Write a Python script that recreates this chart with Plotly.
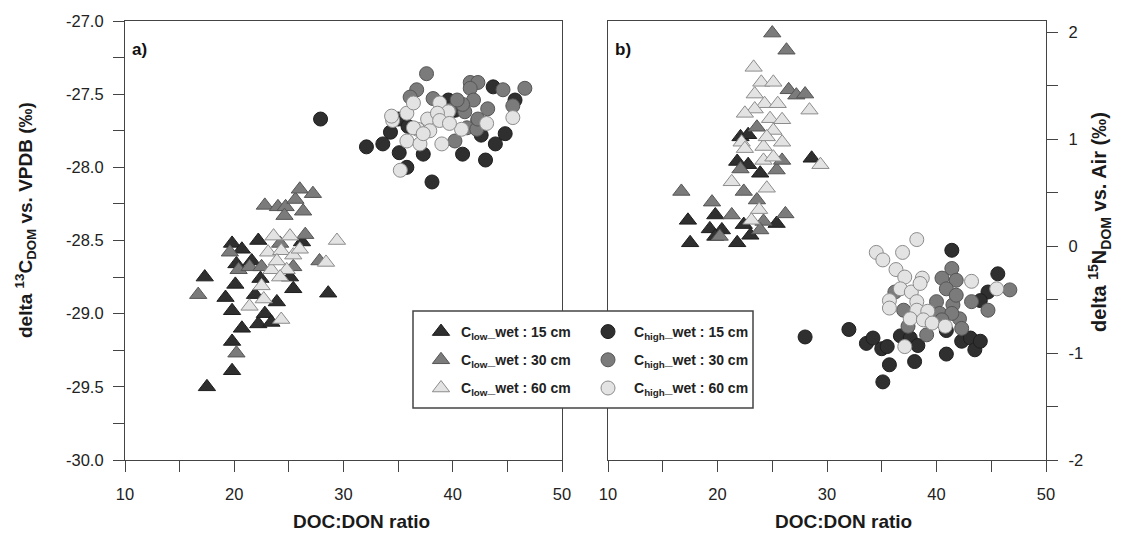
import plotly.graph_objects as go

# ---------------- data ----------------
# Panel a) DOC:DON ratio vs delta13C
a_low15_x = [17.5, 19.8, 19.8, 20.7, 19.8, 19.2, 17.3, 20.1, 22.2, 22.8, 23.4, 23.9, 21.9, 25.4, 28.6, 19.8, 20.7, 22.2, 26.2, 20.2, 22.4, 25.1, 21.6]
a_low15_y = [-29.50, -29.39, -29.19, -29.10, -28.98, -28.89, -28.75, -28.80, -29.07, -29.00, -29.06, -28.92, -28.87, -28.83, -28.86, -28.52, -28.56, -28.50, -28.51, -28.66, -28.76, -28.75, -28.64]
a_low30_x = [22.8, 24.0, 24.7, 25.6, 26.0, 27.2, 26.3, 24.6, 16.7, 20.2, 19.6, 26.5, 27.8, 20.4, 21.4, 22.5, 24.2, 25.4]
a_low30_y = [-28.26, -28.27, -28.27, -28.22, -28.15, -28.18, -28.30, -28.33, -28.87, -29.27, -28.58, -28.46, -28.64, -28.70, -28.68, -28.68, -28.52, -28.68]
a_low60_x = [29.4, 28.4, 23.6, 25.1, 23.1, 24.3, 25.4, 26.0, 23.4, 24.8, 22.5, 21.4, 22.7, 24.3, 24.2, 23.9]
a_low60_y = [-28.50, -28.65, -28.47, -28.47, -28.58, -28.57, -28.60, -28.56, -28.70, -28.70, -28.81, -28.95, -28.90, -29.04, -28.75, -28.64]
a_high15_x = [27.9, 32.1, 33.6, 34.3, 35.1, 35.8, 37.3, 38.1, 40.9, 43.0, 43.9, 44.8, 45.7, 43.7, 42.6, 35.0, 35.9, 40.2, 39.6, 42.3]
a_high15_y = [-27.67, -27.86, -27.84, -27.76, -27.90, -28.00, -27.91, -28.10, -27.91, -27.95, -27.84, -27.77, -27.54, -27.45, -27.78, -27.67, -27.72, -27.61, -27.54, -27.68]
a_high30_x = [37.6, 41.6, 42.3, 46.6, 44.6, 41.6, 41.9, 43.2, 45.5, 36.7, 36.1, 38.2, 41.1, 41.3, 42.2, 40.2, 42.3, 40.9, 39.7, 40.4]
a_high30_y = [-27.36, -27.42, -27.42, -27.46, -27.47, -27.46, -27.54, -27.60, -27.58, -27.47, -27.52, -27.53, -27.62, -27.73, -27.74, -27.82, -27.67, -27.57, -27.61, -27.54]
a_high60_x = [34.5, 34.4, 35.8, 36.4, 38.8, 37.7, 36.8, 37.9, 35.8, 37.0, 39.0, 39.6, 40.8, 43.1, 45.5, 35.2, 38.6, 36.4, 37.3, 38.8, 39.7]
a_high60_y = [-27.68, -27.65, -27.63, -27.56, -27.56, -27.67, -27.74, -27.75, -27.82, -27.84, -27.84, -27.62, -27.74, -27.70, -27.66, -28.02, -27.63, -27.73, -27.77, -27.68, -27.70]

# Panel b) DOC:DON ratio vs delta15N
b_low15_x = [17.5, 17.3, 21.8, 28.6, 23.9, 21.8, 22.8, 22.1, 22.8, 19.3, 19.8, 20.4, 22.4, 23.0, 25.4, 19.8]
b_low15_y = [0.03, 0.24, 0.03, 0.82, 0.68, 0.79, 0.76, 1.02, 1.04, 0.16, 0.29, 0.15, 0.20, 0.10, 0.21, 0.09]
b_low30_x = [25.0, 26.3, 26.5, 27.2, 28.0, 16.7, 19.5, 22.4, 25.4, 22.1, 26.2, 23.6, 24.2, 21.3, 20.2, 23.9, 23.6, 25.9]
b_low30_y = [1.99, 1.83, 1.46, 1.41, 1.42, 0.51, 0.41, 0.51, 0.71, 0.72, 0.30, 0.43, 0.23, 0.29, 0.09, 0.15, 1.11, 0.80]
b_low60_x = [23.3, 24.0, 25.1, 23.4, 28.4, 29.4, 24.3, 25.5, 23.4, 22.5, 24.8, 25.9, 25.1, 22.2, 24.2, 25.9, 22.5, 24.2, 25.1, 21.3, 24.5, 23.8, 23.1, 24.5]
b_low60_y = [1.67, 1.53, 1.53, 1.42, 1.27, 0.76, 1.33, 1.33, 1.28, 1.24, 1.19, 1.18, 1.08, 0.97, 0.93, 0.97, 0.91, 0.80, 0.83, 0.60, 0.54, 0.34, 0.24, 1.02]
b_high15_x = [28.0, 32.0, 33.6, 34.2, 35.0, 35.5, 35.7, 35.1, 36.7, 38.0, 37.6, 38.3, 41.4, 40.9, 42.3, 43.1, 43.5, 44.0, 45.6, 44.7, 44.0, 40.9]
b_high15_y = [-0.85, -0.78, -0.91, -0.86, -0.96, -0.94, -1.11, -1.27, -0.84, -1.08, -0.86, -0.93, -0.04, -1.01, -0.89, -0.86, -0.97, -0.89, -0.26, -0.43, -0.51, -0.79]
b_high30_x = [41.4, 40.5, 41.8, 40.9, 46.7, 44.7, 43.2, 41.5, 40.0, 40.3, 42.1, 42.3, 39.1, 37.4, 37.0, 41.8, 41.4, 36.2, 40.5]
b_high30_y = [-0.21, -0.30, -0.32, -0.40, -0.41, -0.60, -0.52, -0.55, -0.52, -0.63, -0.68, -0.77, -0.83, -0.75, -0.60, -0.46, -0.63, -0.43, -0.69]
b_high60_x = [38.2, 34.5, 35.1, 36.9, 36.3, 37.1, 38.7, 36.7, 35.7, 35.7, 37.7, 38.2, 38.2, 39.2, 37.6, 38.8, 39.6, 40.8, 43.2, 45.5, 37.1, 38.5]
b_high60_y = [0.06, -0.06, -0.13, -0.06, -0.22, -0.29, -0.30, -0.40, -0.51, -0.58, -0.43, -0.52, -0.60, -0.61, -0.68, -0.69, -0.72, -0.75, -0.33, -0.40, -0.94, -0.35]

series_names = [
    "C<sub>low</sub>_wet : 15 cm", "C<sub>low</sub>_wet : 30 cm", "C<sub>low</sub>_wet : 60 cm",
    "C<sub>high</sub>_wet : 15 cm", "C<sub>high</sub>_wet : 30 cm", "C<sub>high</sub>_wet : 60 cm",
]
x_ticks = [10, 20, 30, 40, 50]
y13_ticks = [-30.0, -29.5, -29.0, -28.5, -28.0, -27.5, -27.0]
y13_labels = ["-30.0", "-29.5", "-29.0", "-28.5", "-28.0", "-27.5", "-27.0"]
y15_ticks = [-2, -1, 0, 1, 2]
y15_labels = ["-2", "-1", "0", "1", "2"]
x_title = "DOC:DON ratio"
y13_title = "delta <sup>13</sup>C<sub>DOM</sub> vs. VPDB (‰)"
y15_title = "delta <sup>15</sup>N<sub>DOM</sub> vs. Air (‰)"

# ---------------- styling ----------------
FONT = "Arial, 'Liberation Sans', sans-serif"
fills = ["#2f2f2f", "#7b7b7b", "#e3e3e3"]
edges = ["#1e1e1e", "#555555", "#8c8c8c"]

fig = go.Figure()

panel_a = [(a_low15_x, a_low15_y), (a_low30_x, a_low30_y), (a_low60_x, a_low60_y),
           (a_high15_x, a_high15_y), (a_high30_x, a_high30_y), (a_high60_x, a_high60_y)]
panel_b = [(b_low15_x, b_low15_y), (b_low30_x, b_low30_y), (b_low60_x, b_low60_y),
           (b_high15_x, b_high15_y), (b_high30_x, b_high30_y), (b_high60_x, b_high60_y)]

for i, (xs, ys) in enumerate(panel_a):
    tri = i < 3
    fig.add_trace(go.Scatter(
        x=xs, y=ys, mode="markers", name=series_names[i],
        xaxis="x", yaxis="y",
        legend="legend" if tri else "legend2",
        legendgroup=f"g{i}",
        marker=dict(symbol="triangle-up" if tri else "circle", size=15 if tri else 14,
                    color=fills[i % 3], line=dict(color=edges[i % 3], width=1)),
    ))
for i, (xs, ys) in enumerate(panel_b):
    tri = i < 3
    fig.add_trace(go.Scatter(
        x=xs, y=ys, mode="markers", name=series_names[i], showlegend=False,
        xaxis="x2", yaxis="y2",
        marker=dict(symbol="triangle-up" if tri else "circle", size=15 if tri else 14,
                    color=fills[i % 3], line=dict(color=edges[i % 3], width=1)),
    ))

# page body has an 8px margin, so the figure is sized to fit inside the window
OFF = 8
W, H = 1123 - 2 * OFF, 544 - 2 * OFF
ML, MR, MT, MB = 117, 69, 13, 76
PW, PH = W - ML - MR, H - MT - MB

def px2fx(rx):
    return (rx - OFF - ML) / PW

def py2fy(ry):
    return (H - MB - (ry - OFF)) / PH

axis_common = dict(
    showline=True, linecolor="#444444", linewidth=1.2, mirror=True,
    ticks="outside", ticklen=11, tickwidth=1, tickcolor="#444444",
    showgrid=False, zeroline=False, automargin=False,
    tickfont=dict(family=FONT, size=16.5, color="#222222"),
)
minor_common = dict(ticks="outside", ticklen=11, tickcolor="#444444", showgrid=False)

title_font = dict(family=FONT, size=19, color="#1a1a1a")
title_font_r = dict(family=FONT, size=20, color="#1a1a1a")

fig.update_layout(
    width=W, height=H,
    margin=dict(l=ML, r=MR, t=MT, b=MB, autoexpand=False),
    paper_bgcolor="white", plot_bgcolor="white",
    font=dict(family=FONT, color="#222222"),
    xaxis=dict(domain=[0, px2fx(562)], range=[10, 50], tickvals=x_ticks,
               minor=dict(dtick=5, **minor_common),
               anchor="y", ticklabelstandoff=8, **axis_common),
    yaxis=dict(domain=[0, 1], range=[-30, -27], tickvals=y13_ticks, ticktext=y13_labels,
               minor=dict(dtick=0.25, **minor_common),
               anchor="x", ticklabelstandoff=6, **axis_common),
    xaxis2=dict(domain=[px2fx(608), 1], range=[10, 50], tickvals=x_ticks,
                minor=dict(dtick=5, **minor_common),
                anchor="y2", ticklabelstandoff=8, **axis_common),
    yaxis2=dict(domain=[0, 1], range=[-2, 2.103], tickvals=y15_ticks, ticktext=y15_labels, side="right",
                minor=dict(dtick=0.5, **minor_common),
                anchor="x2", ticklabelstandoff=7, **axis_common),
    legend=dict(x=px2fx(421), y=py2fy(316), xanchor="left", yanchor="top",
                bgcolor="rgba(0,0,0,0)", borderwidth=0, tracegroupgap=7,
                font=dict(family=FONT, size=14, color="#222222", weight="bold")),
    legend2=dict(x=px2fx(582), y=py2fy(316), xanchor="left", yanchor="top", itemwidth=42,
                 bgcolor="rgba(0,0,0,0)", borderwidth=0, tracegroupgap=7,
                 font=dict(family=FONT, size=14, color="#222222", weight="bold")),
    shapes=[dict(type="rect", xref="paper", yref="paper", layer="above",
                 x0=px2fx(413), x1=px2fx(753), y0=py2fy(408), y1=py2fy(311),
                 fillcolor="white", line=dict(color="#444444", width=1.5))],
    annotations=[
        dict(text="<b>a)</b>", xref="x domain", yref="y domain", x=0.012, y=0.935,
             xanchor="left", yanchor="middle", showarrow=False,
             font=dict(family=FONT, size=17, color="#111111")),
        dict(text="<b>b)</b>", xref="x2 domain", yref="y2 domain", x=0.012, y=0.935,
             xanchor="left", yanchor="middle", showarrow=False,
             font=dict(family=FONT, size=17, color="#111111")),
        dict(text=f"<b>{x_title}</b>", xref="paper", yref="paper", x=px2fx(361), y=py2fy(521),
             xanchor="center", yanchor="middle", showarrow=False, font=title_font),
        dict(text=f"<b>{x_title}</b>", xref="paper", yref="paper", x=px2fx(843), y=py2fy(521),
             xanchor="center", yanchor="middle", showarrow=False, font=title_font),
        dict(text=f"<b>{y13_title}</b>", xref="paper", yref="paper", x=px2fx(25), y=py2fy(220),
             xanchor="center", yanchor="middle", textangle=-90, showarrow=False, font=title_font),
        dict(text=f"<b>{y15_title}</b>", xref="paper", yref="paper", x=px2fx(1099), y=py2fy(222),
             xanchor="center", yanchor="middle", textangle=-90, showarrow=False, font=title_font_r),
    ],
)

fig.write_html("out.html")
